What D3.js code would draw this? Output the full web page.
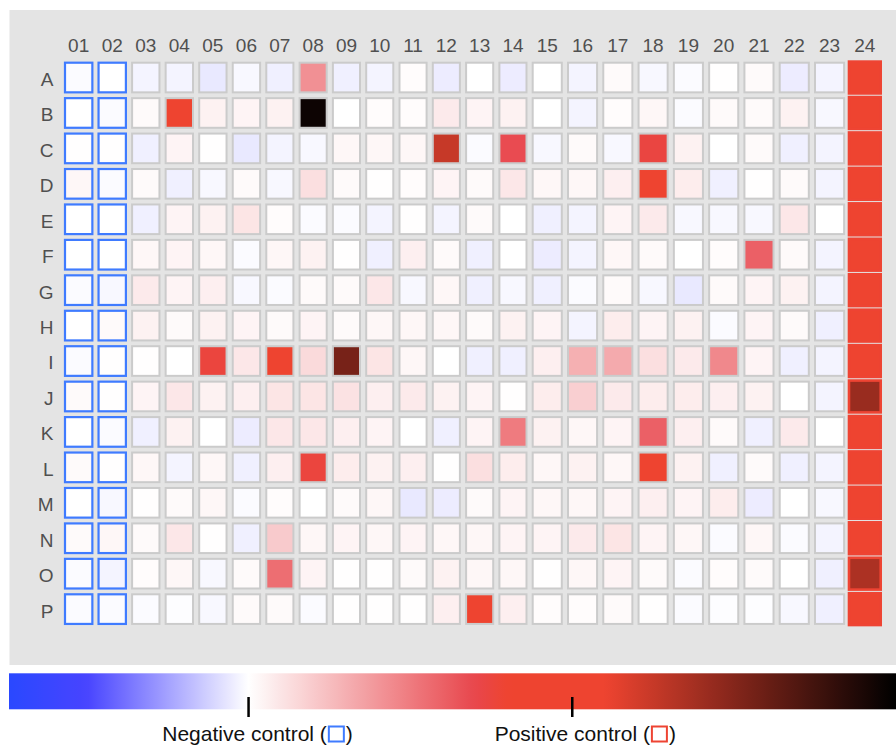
<!DOCTYPE html>
<html>
<head>
<meta charset="utf-8">
<script src="https://cdn.jsdelivr.net/npm/d3@7"></script>
<style>
  body { margin: 0; background: #ffffff; }
  svg { display: block; font-family: "Liberation Sans", Arial, Helvetica, sans-serif; }
</style>
</head>
<body>
<svg id="chart" width="896" height="746"></svg>
<script>
// 384-well plate: rows A–P, columns 01–24, normalised activity
// (0 = negative control level, 1 = positive control level)
const rowLabels = [..."ABCDEFGHIJKLMNOP"];
const colLabels = d3.range(1, 25).map(d => String(d).padStart(2, "0"));

const rowA = [-0.01, 0, -0.03, -0.03, -0.06, -0.02, -0.04, 0.42, -0.04, -0.03, 0.01, -0.05, 0, -0.05, 0, -0.03, 0.02, -0.02, -0.01, 0.005, 0.02, -0.05, -0.03, 1];
const rowB = [0, -0.01, 0.02, 1.0, 0.05, 0.04, 0.05, 1.95, 0, 0.01, 0.01, 0.08, 0.04, 0.05, 0, -0.03, 0.01, 0.03, -0.01, 0.02, 0.02, 0.05, -0.02, 1];
const rowC = [0.005, 0.005, -0.04, 0.04, 0.005, -0.06, -0.03, -0.02, 0.03, 0.03, 0.03, 1.25, -0.01, 0.68, -0.02, 0.02, -0.02, 0.74, 0.05, 0, 0.02, -0.04, -0.03, 1];
const rowD = [0.03, -0.01, 0.02, -0.04, -0.02, 0.02, -0.02, 0.12, 0.02, 0.005, 0.01, 0.04, 0.02, 0.09, 0.03, 0.03, 0.06, 0.95, 0.07, -0.04, 0.005, 0.02, -0.03, 1];
const rowE = [0, 0, -0.04, 0.04, 0.05, 0.1, 0.01, -0.01, -0.01, -0.03, 0.005, -0.03, 0.02, 0, -0.04, -0.03, 0.04, 0.08, -0.02, -0.02, -0.02, 0.09, 0, 1];
const rowF = [0, 0, 0.03, 0.04, 0.03, -0.01, 0.03, 0.05, 0.005, -0.04, 0.06, 0.02, -0.04, 0, -0.05, -0.03, 0.03, 0.02, 0, 0.01, 0.6, 0.02, -0.03, 1];
const rowG = [-0.01, -0.02, 0.08, 0.04, 0.06, -0.02, -0.01, 0.02, 0.02, 0.09, -0.02, 0.03, -0.04, -0.02, -0.04, -0.01, 0.02, -0.02, -0.06, 0.02, 0.04, 0.05, -0.03, 1];
const rowH = [0, 0.02, 0.05, 0.02, 0.05, 0.04, 0.02, 0.04, 0.02, 0.03, 0.03, 0.03, 0.02, 0.05, 0.04, -0.03, 0.07, 0.04, 0.05, -0.01, 0.04, 0.02, -0.04, 1];
const rowI = [-0.01, 0.005, 0.005, 0, 0.75, 0.09, 0.9, 0.14, 1.55, 0.1, 0.03, 0, -0.04, -0.04, 0.06, 0.3, 0.32, 0.12, 0.08, 0.45, 0.04, -0.04, -0.03, 1];
const rowJ = [0.02, 0.005, 0.04, 0.09, 0.05, 0.06, 0.1, 0.1, 0.11, 0.06, 0.08, 0.05, 0.04, 0.005, 0.07, 0.18, 0.08, 0.07, 0.07, 0.06, 0.05, 0, -0.03, 1.42];
const rowK = [0, -0.01, -0.04, 0.05, 0, -0.05, 0.09, 0.09, 0.06, 0.04, 0, -0.04, 0.04, 0.5, 0.05, 0.03, 0.04, 0.6, 0.06, 0.02, -0.04, 0.08, 0, 1];
const rowL = [0.02, 0.005, 0.03, -0.03, 0.03, -0.04, 0.06, 0.75, 0.07, 0.05, 0.06, 0.005, 0.12, 0.07, 0.03, 0.05, 0.03, 0.95, 0.05, -0.04, 0.02, -0.04, -0.03, 1];
const rowM = [0, -0.02, 0.005, 0.02, 0.03, -0.01, 0.01, 0, 0.02, 0.03, -0.06, -0.05, 0.02, 0.04, 0.03, 0.03, 0.04, 0.06, 0.04, 0.07, -0.05, 0, -0.02, 1];
const rowN = [0.02, 0.03, 0.02, 0.09, 0.005, -0.04, 0.2, 0.03, 0.04, 0.03, 0.04, 0.03, 0.03, 0.04, 0.04, 0.08, 0.1, 0.04, 0.03, -0.01, 0.03, -0.01, -0.03, 1];
const rowO = [-0.01, -0.03, 0.01, 0.03, -0.02, 0.02, 0.55, 0.04, 0.005, 0.005, 0.02, 0.05, 0.03, 0.03, 0.005, 0.03, 0.04, 0.02, -0.01, 0.01, 0.02, 0, -0.04, 1.35];
const rowP = [-0.01, -0.01, -0.01, -0.005, -0.02, 0.02, 0.02, -0.01, 0.005, 0.005, 0.005, 0.06, 0.95, 0.06, 0.01, 0.01, 0.02, 0.005, -0.01, -0.005, -0.005, -0.02, -0.04, 1];

const plateRows = [rowA, rowB, rowC, rowD, rowE, rowF, rowG, rowH, rowI, rowJ, rowK, rowL, rowM, rowN, rowO, rowP];

const negativeCols = ["01", "02"];
const positiveCols = ["24"];

const legendTicks = [
  { value: 0, label: "Negative control", kind: "neg" },
  { value: 1, label: "Positive control", kind: "pos" }
];

// colour ramp: blue → white (negative control) → red (positive control) → black
const rampDomain = [-0.74, -0.5, 0, 0.7, 0.8, 1.1, 2.0];
const rampColors = ["#2a48ff", "#4844ff", "#ffffff", "#e8464c", "#ee4430", "#ee4430", "#000000"];
const NEG_STROKE = "#3f7bff";
const POS_STROKE = "#ee4433";

const color = d3.scaleLinear().domain(rampDomain).range(rampColors).clamp(true);

const svg = d3.select("#chart");

// plate background panel
svg.append("rect")
  .attr("x", 9.5).attr("y", 10).attr("width", 886.5).attr("height", 655)
  .attr("fill", "#e4e4e4");

// column / row positions
const x = d3.scaleLinear().domain([0, 6, 14, 23]).range([64, 265.3, 531.7, 849.3]);
const y = d3.scaleLinear().domain([0, 15]).range([61.7, 593.3]);
const colStep = i => x(i + 1) - x(i);
const rowStep = y(1) - y(0);

const cells = [];
plateRows.forEach((vals, r) => {
  vals.forEach((v, c) => {
    const col = colLabels[c];
    const kind = negativeCols.includes(col) ? "neg" : positiveCols.includes(col) ? "pos" : "well";
    cells.push({ row: rowLabels[r], r, col, c, value: v, kind });
  });
});

const grid = svg.append("g");
grid.selectAll("rect")
  .data(cells)
  .join("rect")
  .each(function (d) {
    let rx = x(d.c) + 1, ry = y(d.r) + 1;
    let w = colStep(d.c) - 6.2, h = rowStep - 5.8;
    let stroke = "#cbcbcb", sw = 2;
    if (d.kind === "neg") { stroke = NEG_STROKE; sw = 2.2; }
    if (d.kind === "pos") { rx -= 1.3; ry -= 1.1; w += 2.6; h += 2.2; stroke = POS_STROKE; sw = 2.6; }
    d3.select(this)
      .attr("x", rx).attr("y", ry).attr("width", w).attr("height", h)
      .attr("fill", color(d.value))
      .attr("stroke", stroke).attr("stroke-width", sw);
  });

// column labels
svg.append("g").selectAll("text")
  .data(colLabels)
  .join("text")
  .attr("x", (d, i) => x(i) + (colStep(i) - 4.2) / 2)
  .attr("y", 52)
  .attr("text-anchor", "middle")
  .attr("font-size", 19)
  .attr("fill", "#505050")
  .text(d => d);

// row labels
svg.append("g").selectAll("text")
  .data(rowLabels)
  .join("text")
  .attr("x", 53.5)
  .attr("y", (d, i) => y(i) + (rowStep - 3.8) / 2 + 8.4)
  .attr("text-anchor", "end")
  .attr("font-size", 19)
  .attr("fill", "#505050")
  .text(d => d);

// colour bar
const xb = d3.scaleLinear().domain([rampDomain[0], rampDomain[rampDomain.length - 1]]).range([9, 896]);
const grad = svg.append("defs").append("linearGradient")
  .attr("id", "ramp").attr("x1", "0").attr("x2", "1").attr("y1", "0").attr("y2", "0");
grad.selectAll("stop")
  .data(d3.range(0, 1.0001, 0.01))
  .join("stop")
  .attr("offset", d => d)
  .attr("stop-color", d => color(xb.invert(9 + d * 887)));

svg.append("rect")
  .attr("x", xb.range()[0]).attr("y", 673.3)
  .attr("width", xb.range()[1] - xb.range()[0]).attr("height", 36)
  .attr("fill", "url(#ramp)");

svg.append("g").selectAll("line")
  .data(legendTicks)
  .join("line")
  .attr("x1", d => xb(d.value)).attr("x2", d => xb(d.value))
  .attr("y1", 697).attr("y2", 717)
  .attr("stroke", "#000").attr("stroke-width", 2.5);

// tick captions with the control swatch
legendTicks.forEach((t, i) => {
  const g = svg.append("g");
  const t1 = g.append("text")
    .attr("x", 0).attr("y", 741)
    .attr("font-size", 21).attr("fill", "#111")
    .text(t.label + " (");
  const w1 = t1.node().getComputedTextLength();
  const box = 15;
  g.append("rect")
    .attr("x", w1 + 2).attr("y", 726.5).attr("width", box).attr("height", box)
    .attr("fill", "#fff")
    .attr("stroke", t.kind === "neg" ? NEG_STROKE : POS_STROKE).attr("stroke-width", 2);
  const t2 = g.append("text")
    .attr("x", w1 + box + 4).attr("y", 741)
    .attr("font-size", 21).attr("fill", "#111")
    .text(")");
  const total = w1 + box + 4 + t2.node().getComputedTextLength();
  const centre = xb(t.value) + (i === 0 ? 9 : 13);
  g.attr("transform", `translate(${centre - total / 2},0)`);
});
</script>
</body>
</html>
